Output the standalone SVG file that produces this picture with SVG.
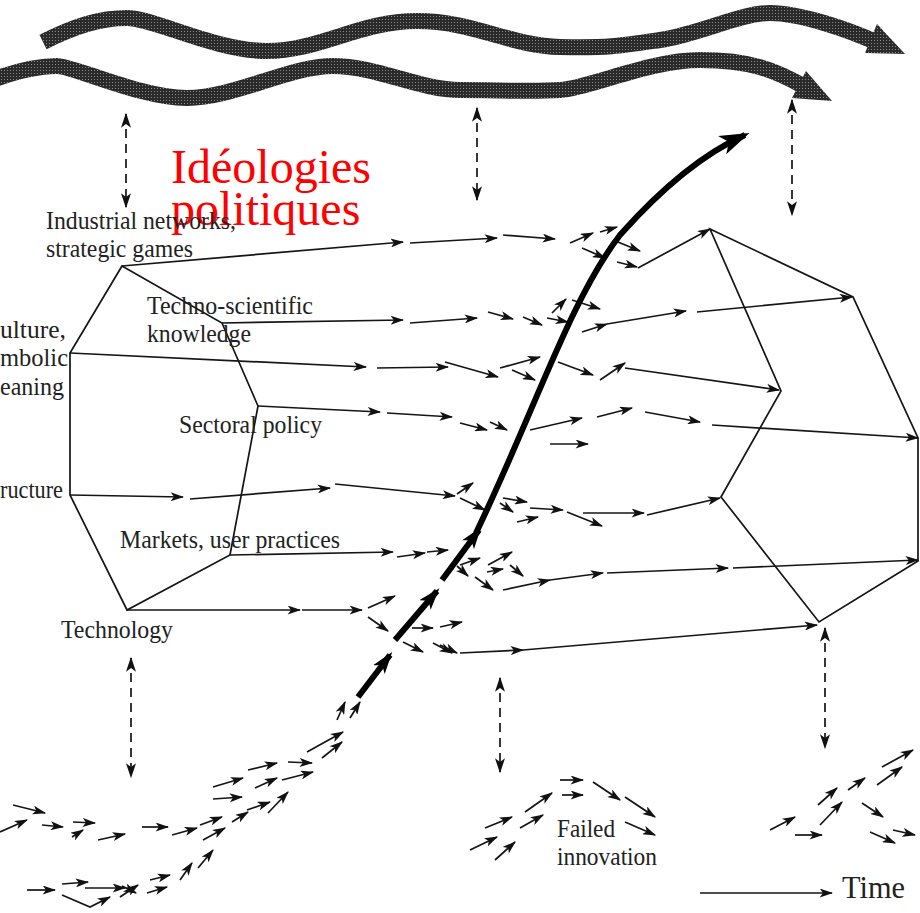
<svg xmlns="http://www.w3.org/2000/svg" width="920" height="913" viewBox="0 0 920 913">
<style>
.ar{fill:none;stroke:#151515;stroke-width:1.7;marker-end:url(#a)}
.ln{fill:none;stroke:#151515;stroke-width:1.7}
.dash{fill:none;stroke:#151515;stroke-width:1.7;stroke-dasharray:9 6;marker-start:url(#ds);marker-end:url(#ds)}
.thick{fill:none;stroke:#000;stroke-width:6;marker-end:url(#b)}
.band{fill:none;stroke:url(#chk);stroke-width:16;stroke-linecap:butt}
.lbl{font-family:"Liberation Serif","Times New Roman",serif;font-size:25px;fill:#222}
.red{font-family:"Liberation Serif","Times New Roman",serif;font-size:48px;fill:#f00}
</style>
<defs>
<pattern id="chk" width="3" height="3" patternUnits="userSpaceOnUse">
<rect width="3" height="3" fill="#2a2a2a"/><rect x="1" y="1" width="1" height="1" fill="#8a8a8a"/>
</pattern>
<marker id="a" viewBox="0 0 12 8" markerWidth="14" markerHeight="9" refX="11" refY="4" orient="auto" markerUnits="userSpaceOnUse"><path d="M0,0 L12,4 L0,8 L3,4z" fill="#111"/></marker>
<marker id="ds" viewBox="0 0 12 8" markerWidth="15" markerHeight="10" refX="11" refY="4" orient="auto-start-reverse" markerUnits="userSpaceOnUse"><path d="M0,0 L12,4 L0,8 L3,4z" fill="#111"/></marker>
<marker id="b" viewBox="0 0 12 8" markerWidth="22" markerHeight="15" refX="10" refY="4" orient="auto" markerUnits="userSpaceOnUse"><path d="M0,0 L12,4 L0,8 L3,4z" fill="#000"/></marker>
<marker id="c" viewBox="0 0 12 8" markerWidth="30" markerHeight="20" refX="10" refY="4" orient="auto" markerUnits="userSpaceOnUse"><path d="M0,0 L12,4 L0,8 L3,4z" fill="#000"/></marker>
</defs>
<rect width="920" height="913" fill="#fff"/>

<g id="landscape">
<path class="band" d="M43,42 C75,26 100,18 127,18 S215,51 267,51 S360,21 417,21 S510,46 560,47 S620,46 660,40 S740,13 770,13 S850,30 880,44"/>
<polygon points="877,24 905,54 865,53" fill="url(#chk)"/>
<path class="band" d="M-5,79 C20,70 40,66 57,66 S140,98 187,98 S290,66 333,66 S420,90 460,90 S530,92 560,90 S650,60 700,60 S775,70 805,87"/>
<polygon points="806,71 832,101 792,98" fill="url(#chk)"/>
</g>

<g id="ideologies">
<text class="red" x="171" y="183">Idéologies</text>
<text class="red" x="171" y="225">politiques</text>
</g>

<g id="regime-left">
<polygon class="ln" points="122,266 222,323 258,406 230,555 127,610 70,495 70,353"/>
<text class="lbl" x="46" y="229" textLength="190" lengthAdjust="spacingAndGlyphs">Industrial networks,</text>
<text class="lbl" x="46" y="257" textLength="147" lengthAdjust="spacingAndGlyphs">strategic games</text>
<text class="lbl" x="147" y="314" textLength="166" lengthAdjust="spacingAndGlyphs">Techno-scientific</text>
<text class="lbl" x="147" y="342" textLength="104" lengthAdjust="spacingAndGlyphs">knowledge</text>
<text class="lbl" x="0" y="338" textLength="66" lengthAdjust="spacingAndGlyphs">ulture,</text>
<text class="lbl" x="0" y="366" textLength="68" lengthAdjust="spacingAndGlyphs">mbolic</text>
<text class="lbl" x="0" y="395" textLength="64" lengthAdjust="spacingAndGlyphs">eaning</text>
<text class="lbl" x="179" y="433" textLength="143" lengthAdjust="spacingAndGlyphs">Sectoral policy</text>
<text class="lbl" x="0" y="498" textLength="63" lengthAdjust="spacingAndGlyphs">ructure</text>
<text class="lbl" x="120" y="548" textLength="220" lengthAdjust="spacingAndGlyphs">Markets, user practices</text>
<text class="lbl" x="61" y="638" textLength="112" lengthAdjust="spacingAndGlyphs">Technology</text>
</g>

<g id="regime-right">
<polygon class="ln" points="710,229 853,297 918,438 918,561 819,622 721,497 781,391"/>
</g>

<g id="failed-innovation">
<text class="lbl" x="557" y="837" textLength="58" lengthAdjust="spacingAndGlyphs">Failed</text>
<text class="lbl" x="557" y="865" textLength="100" lengthAdjust="spacingAndGlyphs">innovation</text>
</g>

<g id="time">
<text class="lbl" x="842" y="898" style="font-size:32px" textLength="63" lengthAdjust="spacingAndGlyphs">Time</text>
</g>

<g id="connectors">
<path class="dash" d="M126,114 V207"/>
<path class="dash" d="M477,108 V200"/>
<path class="dash" d="M792,100 V215"/>
<path class="dash" d="M131,658 V777"/>
<path class="dash" d="M500,678 V772"/>
<path class="dash" d="M825,628 V748"/>
<path class="ar" d="M700,893 H832"/>

<path class="ar" d="M122,266 L403,242"/>
<path class="ar" d="M410,243 L497,238"/>
<path class="ar" d="M503,235 L555,239"/>
<path class="ar" d="M570,243 L593,233"/>
<path class="ar" d="M600,232 L617,227"/>
<path class="ar" d="M582,248 L605,258"/>
<path class="ar" d="M613,240 L640,251"/>
<path class="ar" d="M617,262 L637,267"/>
<path class="ar" d="M638,268 L710,229"/>

<path class="ar" d="M222,323 L403,320"/>
<path class="ar" d="M410,323 L477,318"/>
<path class="ar" d="M488,312 L513,319"/>
<path class="ar" d="M523,317 L542,325"/>
<path class="ar" d="M547,318 L568,322"/>
<path class="ar" d="M552,313 L566,299"/>
<path class="ar" d="M572,300 L600,309"/>
<path class="ar" d="M582,332 L607,324"/>
<path class="ar" d="M607,324 L686,311"/>
<path class="ar" d="M697,312 L852,297"/>

<path class="ar" d="M70,353 L366,367"/>
<path class="ar" d="M377,368 L448,367"/>
<path class="ar" d="M445,362 L498,377"/>
<path class="ar" d="M500,368 L540,357"/>
<path class="ar" d="M512,370 L535,380"/>
<path class="ar" d="M558,362 L593,375"/>
<path class="ar" d="M600,380 L625,363"/>
<path class="ar" d="M625,368 L779,390"/>

<path class="ar" d="M258,406 L380,412"/>
<path class="ar" d="M387,413 L452,417"/>
<path class="ar" d="M460,423 L487,430"/>
<path class="ar" d="M490,422 L507,430"/>
<path class="ar" d="M530,430 L582,418"/>
<path class="ar" d="M597,417 L632,408"/>
<path class="ar" d="M645,412 L700,422"/>
<path class="ar" d="M712,425 L918,438"/>
<path class="ar" d="M550,444 L588,444"/>

<path class="ar" d="M70,495 L183,497"/>
<path class="ar" d="M190,499 L330,488"/>
<path class="ar" d="M335,484 L455,496"/>
<path class="ar" d="M457,494 L473,483"/>
<path class="ar" d="M460,498 L485,510"/>
<path class="ar" d="M500,503 L513,512"/>
<path class="ar" d="M503,498 L527,502"/>
<path class="ar" d="M517,522 L538,517"/>
<path class="ar" d="M530,508 L563,510"/>
<path class="ar" d="M567,512 L602,526"/>
<path class="ar" d="M583,513 L644,513"/>
<path class="ar" d="M647,515 L720,498"/>

<path class="ar" d="M230,555 L393,552"/>
<path class="ar" d="M397,557 L425,553"/>
<path class="ar" d="M427,552 L448,550"/>
<path class="ar" d="M460,565 L480,558"/>
<path class="ar" d="M457,566 L468,576"/>
<path class="ar" d="M488,565 L512,552"/>
<path class="ar" d="M487,572 L503,569"/>
<path class="ar" d="M510,565 L523,576"/>
<path class="ar" d="M475,577 L493,590"/>
<path class="ar" d="M503,590 L550,580"/>
<path class="ar" d="M550,580 L603,573"/>
<path class="ar" d="M607,573 L728,568"/>
<path class="ar" d="M733,568 L918,560"/>

<path class="ar" d="M127,610 L300,610"/>
<path class="ar" d="M302,610 L362,610"/>
<path class="ar" d="M368,608 L395,596"/>
<path class="ar" d="M368,617 L388,631"/>
<path class="ar" d="M412,628 L433,628"/>
<path class="ar" d="M440,627 L462,622"/>
<path class="ar" d="M403,642 L423,652"/>
<path class="ar" d="M433,643 L452,653"/>
<path class="ar" d="M440,645 L457,653"/>
<path class="ar" d="M460,653 L523,650"/>
<path class="ar" d="M523,650 L817,625"/>

<path class="thick" d="M358,697 L390,655"/>
<path class="thick" d="M395,640 L437,591"/>
<path class="thick" d="M442,580 L479,530"/>
<path d="M476,533 C535,410 570,300 620,235 C660,190 700,155 745,135" fill="none" stroke="#000" stroke-width="6" marker-end="url(#c)"/>

<path class="ar" d="M13,805 L45,813"/>
<path class="ar" d="M0,832 L27,820"/>
<path class="ar" d="M42,825 L63,827"/>
<path class="ar" d="M73,822 L95,823"/>
<path class="ar" d="M72,837 L83,830"/>
<path class="ar" d="M98,840 L125,834"/>
<path class="ar" d="M142,827 L168,827"/>
<path class="ar" d="M172,835 L197,828"/>
<path class="ar" d="M200,825 L222,817"/>
<path class="ar" d="M203,840 L225,828"/>
<path class="ar" d="M213,787 L243,778"/>
<path class="ar" d="M213,799 L242,797"/>
<path class="ar" d="M232,822 L248,812"/>
<path class="ar" d="M248,770 L277,763"/>
<path class="ar" d="M255,788 L277,778"/>
<path class="ar" d="M247,810 L270,802"/>
<path class="ar" d="M268,813 L288,792"/>
<path class="ar" d="M288,762 L312,763"/>
<path class="ar" d="M282,780 L313,772"/>
<path class="ar" d="M307,752 L343,732"/>
<path class="ar" d="M322,758 L342,742"/>
<path class="ar" d="M337,720 L345,702"/>
<path class="ar" d="M350,718 L360,702"/>
<path class="ar" d="M27,890 L55,890"/>
<path class="ar" d="M62,884 L88,882"/>
<path class="ar" d="M85,888 L125,888"/>
<path class="ar" d="M62,895 L90,907 L110,897"/>
<path class="ar" d="M120,897 L138,885"/>
<path class="ar" d="M122,886 L136,893"/>
<path class="ar" d="M147,893 L167,887"/>
<path class="ar" d="M150,880 L170,875"/>
<path class="ar" d="M180,880 L192,863"/>
<path class="ar" d="M198,868 L213,850"/>

<path class="ar" d="M470,850 L497,837"/>
<path class="ar" d="M485,828 L512,817"/>
<path class="ar" d="M495,860 L515,842"/>
<path class="ar" d="M520,828 L543,815"/>
<path class="ar" d="M525,812 L552,793"/>
<path class="ar" d="M560,780 L583,780"/>
<path class="ar" d="M562,795 L583,795"/>
<path class="ar" d="M593,782 L620,800"/>
<path class="ar" d="M625,797 L655,817"/>
<path class="ar" d="M625,822 L655,835"/>

<path class="ar" d="M770,830 L795,817"/>
<path class="ar" d="M795,835 L822,835"/>
<path class="ar" d="M820,825 L842,802"/>
<path class="ar" d="M818,805 L837,788"/>
<path class="ar" d="M848,790 L865,778"/>
<path class="ar" d="M862,803 L883,817"/>
<path class="ar" d="M870,832 L895,843"/>
<path class="ar" d="M893,830 L915,835"/>
<path class="ar" d="M877,785 L902,767"/>
<path class="ar" d="M882,767 L913,750"/>
</g>
</svg>
